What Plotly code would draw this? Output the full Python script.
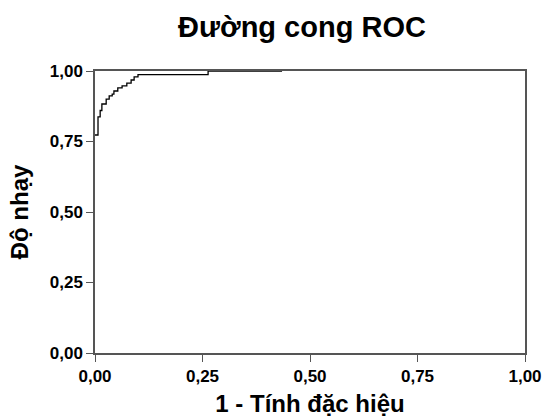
import plotly.graph_objects as go

# ROC curve step points (1 - specificity, sensitivity)
fpr = [0.0, 0.007, 0.012, 0.016, 0.026, 0.033, 0.040, 0.044, 0.053,
       0.063, 0.074, 0.084, 0.091, 0.100, 0.263, 0.435]
tpr = [0.773, 0.837, 0.860, 0.883, 0.900, 0.912, 0.918, 0.929, 0.940,
       0.947, 0.957, 0.968, 0.979, 0.987, 1.0, 1.0]

tick_vals = [0, 0.25, 0.5, 0.75, 1.0]
tick_text = ["0,00", "0,25", "0,50", "0,75", "1,00"]

FONT = "Liberation Sans, Arial, sans-serif"

fig = go.Figure()
fig.add_trace(go.Scatter(
    x=fpr, y=tpr, mode="lines",
    line=dict(color="black", width=1.3, shape="hv"),
    showlegend=False, hoverinfo="skip",
))

axis_common = dict(
    range=[0, 1], tickvals=tick_vals,
    ticktext=["<b>" + t + "</b>" for t in tick_text],
    showgrid=False, zeroline=False, showline=True, mirror=True,
    linecolor="#555555", linewidth=1.5, automargin=False,
    ticks="outside", ticklen=7, tickwidth=1.2, tickcolor="#555555",
    tickfont=dict(family=FONT, size=17, color="black"),
)

fig.update_layout(
    width=544, height=417,
    margin=dict(l=95, r=19, t=71, b=64),
    paper_bgcolor="white", plot_bgcolor="white",
    title=dict(text="<b>Đường cong ROC</b>", x=(302 - 95) / 430, xref="paper",
               xanchor="center", y=1 - 27 / 417, yanchor="middle",
               font=dict(family=FONT, size=29, color="black")),
    xaxis=dict(**axis_common,
               title=dict(text="<b>1 - Tính đặc hiệu</b>", standoff=15,
                          font=dict(family=FONT, size=24, color="black"))),
    yaxis=dict(**axis_common,
               title=dict(text="<b>Độ nhạy</b>", standoff=14,
                          font=dict(family=FONT, size=24, color="black"))),
)

fig.write_html("out.html")
